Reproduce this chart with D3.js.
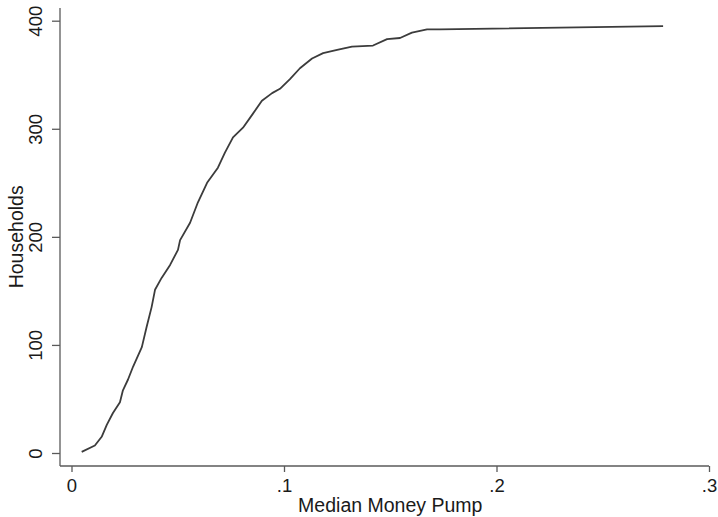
<!DOCTYPE html>
<html>
<head>
<meta charset="utf-8">
<script src="https://cdn.jsdelivr.net/npm/d3@7"></script>
<style>
  body { margin: 0; background: #fff; }
  svg { display: block; font-family: "Liberation Sans", Arial, sans-serif; }
  .axis path, .axis line { stroke: #5a5a5a; stroke-width: 1.3; }
  .axis text { fill: #1a1a1a; font-size: 18.5px; }
</style>
</head>
<body>
<div id="vis"></div>
<script>
// cumulative count of households by median money pump
var pump = [0.0048, 0.011, 0.0142, 0.0166, 0.0195, 0.0228, 0.0242, 0.0266, 0.029,
  0.0331, 0.0354, 0.0377, 0.0393, 0.0424, 0.0464, 0.0501, 0.0511, 0.0558, 0.0595,
  0.0638, 0.0689, 0.0722, 0.076, 0.0807, 0.0854, 0.0896, 0.0944, 0.0981, 0.1028,
  0.1075, 0.1132, 0.1184, 0.125, 0.132, 0.1419, 0.1485, 0.1546, 0.1602, 0.1673,
  0.1734, 0.2784];
var households = [1, 7, 15, 26, 37, 47, 58, 68, 80,
  98, 117, 135, 151, 162, 174, 188, 197, 213, 232,
  250, 264, 278, 292, 301, 314, 326, 333, 337, 346,
  356, 365, 370, 373, 376, 377, 383, 384, 389, 392,
  392, 395];

var xTicks = [0, 0.1, 0.2, 0.3];
var xTickLabels = ['0', '.1', '.2', '.3'];
var yTicks = [0, 100, 200, 300, 400];

var width = 718;
var height = 517;
var axisX = 60;      // y axis position
var axisY = 466;     // x axis position
var plotTop = 8;

var svg = d3.select('#vis').append('svg')
  .attr('width', width)
  .attr('height', height);

var x = d3.scaleLinear().domain([0, 0.3]).range([71.5, 709]);
var y = d3.scaleLinear().domain([0, 400]).range([453, 20.7]);

// x axis
var gx = svg.append('g')
  .attr('class', 'axis')
  .attr('transform', 'translate(0,' + axisY + ')')
  .call(d3.axisBottom(x)
    .tickValues(xTicks)
    .tickFormat(function(d, i) { return xTickLabels[i]; })
    .tickSize(6)
    .tickSizeOuter(0)
    .tickPadding(5));
gx.select('.domain').attr('d', 'M' + axisX + ',0H' + x.range()[1]);
gx.selectAll('text').attr('dy', '0.8em');

// y axis
var gy = svg.append('g')
  .attr('class', 'axis')
  .attr('transform', 'translate(' + axisX + ',0)')
  .call(d3.axisLeft(y)
    .tickValues(yTicks)
    .tickFormat(d3.format('d'))
    .tickSize(8)
    .tickSizeOuter(0));
gy.select('.domain').attr('d', 'M0,' + plotTop + 'V' + axisY);
gy.selectAll('.tick text')
  .attr('x', 0)
  .attr('dy', 0)
  .attr('text-anchor', 'middle')
  .attr('transform', 'translate(-18,0) rotate(-90)');

// axis titles
svg.append('text')
  .attr('x', (x.range()[0] + x.range()[1]) / 2)
  .attr('y', 512)
  .attr('text-anchor', 'middle')
  .style('font-size', '19.5px')
  .style('fill', '#1a1a1a')
  .text('Median Money Pump');

svg.append('text')
  .attr('transform', 'translate(23,' + (y(0) + y(400)) / 2 + ') rotate(-90)')
  .attr('text-anchor', 'middle')
  .style('font-size', '19.5px')
  .style('fill', '#1a1a1a')
  .text('Households');

// the curve
var line = d3.line()
  .x(function(d, i) { return x(pump[i]); })
  .y(function(d) { return y(d); });

svg.append('path')
  .datum(households)
  .attr('d', line)
  .attr('fill', 'none')
  .attr('stroke', '#3c3c3c')
  .attr('stroke-width', 1.8)
  .attr('stroke-linejoin', 'round');
</script>
</body>
</html>
